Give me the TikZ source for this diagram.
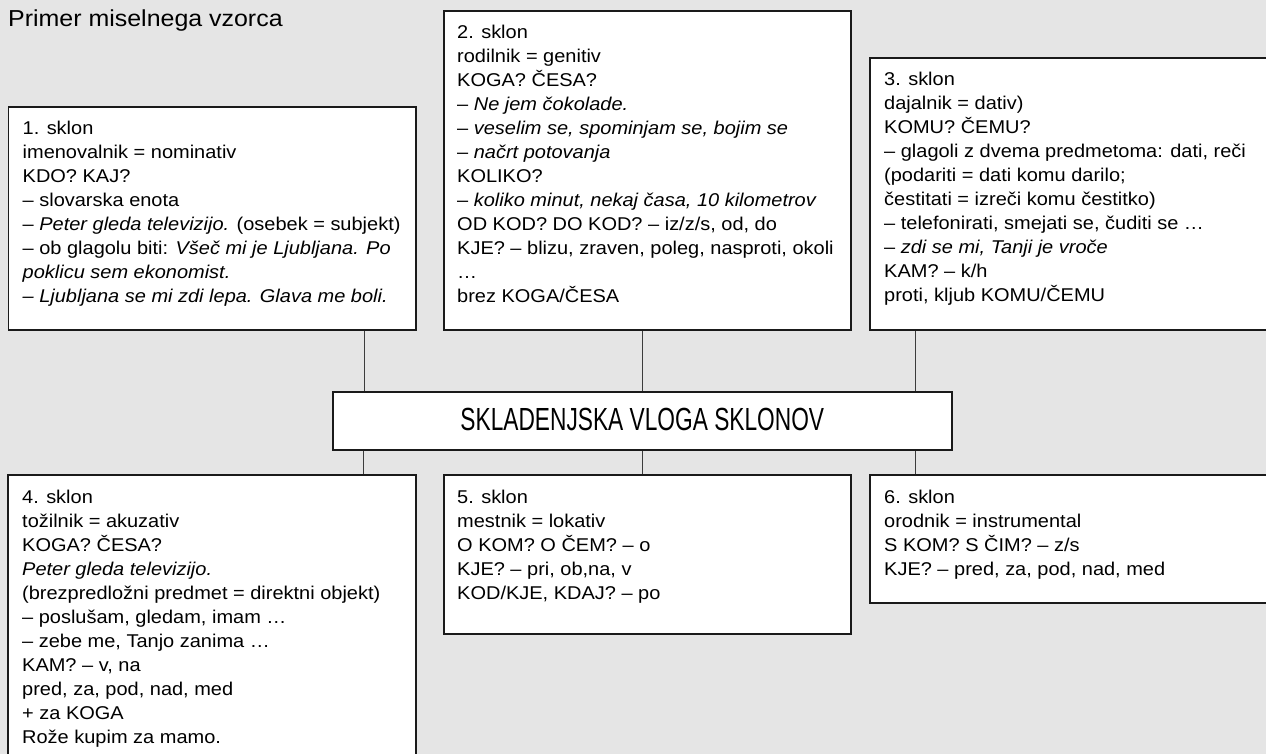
\documentclass[tikz,border=0pt]{standalone}
\usepackage{fontspec}
\setmainfont{Liberation Sans}[FakeStretch=1.08]
\newfontfamily\condfont{Liberation Sans}[FakeStretch=0.71]
\usetikzlibrary{calc}
\definecolor{bg}{HTML}{E5E5E5}
\definecolor{edge}{HTML}{1A1A1A}
\tikzset{
  box/.style={draw=edge, line width=1.6pt, fill=white, rectangle, inner sep=0pt, anchor=north west},
  txt/.style={inner sep=0pt, anchor=base west, font=\fontsize{18.5}{24}\selectfont},
  link/.style={draw=edge!85, line width=1pt},
}
\newcommand{\lines}[1]{\begin{tabular}[t]{@{}l@{}}#1\end{tabular}}
\begin{document}
\begin{tikzpicture}[x=1pt,y=-1pt]
\useasboundingbox (0,0) rectangle (1266,754);
\fill[bg] (0,0) rectangle (1266,754);
\clip (0,0) rectangle (1266,754);

\node[inner sep=0pt, anchor=base west, font=\fontsize{23.1}{28}\selectfont] (title) at (8,27) {Primer miselnega vzorca};

% top boxes
\node[box, minimum width=407.5, minimum height=223] (b1) at (7.5,106) {};
\node[box, minimum width=407, minimum height=319] (b2) at (443,10) {};
\node[box, minimum width=420, minimum height=272] (b3) at (869,57) {};
% central
\node[box, minimum width=619, minimum height=58] (c) at (332,391) {};
\node[inner sep=0pt, font=\condfont\fontsize{32}{36}\selectfont] (ct) at ($(c.center)+(0,-1)$) {SKLADENJSKA VLOGA SKLONOV};
% bottom boxes
\node[box, minimum width=408, minimum height=300] (b4) at (7,474) {};
\node[box, minimum width=407, minimum height=159] (b5) at (443,474) {};
\node[box, minimum width=420, minimum height=128] (b6) at (869,474) {};

% texts
\node[txt] (t1) at ($(b1.north west)+(15,29)$) {\lines{%
1. sklon\\
imenovalnik = nominativ\\
KDO? KAJ?\\
– slovarska enota\\
– \textit{Peter gleda televizijo.} (osebek = subjekt)\\
– ob glagolu biti: \textit{Všeč mi je Ljubljana. Po}\\
\textit{poklicu sem ekonomist.}\\
\textit{– Ljubljana se mi zdi lepa. Glava me boli.}}};

\node[txt] (t2) at ($(b2.north west)+(14,29)$) {\lines{%
2. sklon\\
rodilnik = genitiv\\
KOGA? ČESA?\\
– \textit{Ne jem čokolade.}\\
– \textit{veselim se, spominjam se, bojim se}\\
– \textit{načrt potovanja}\\
KOLIKO?\\
– \textit{koliko minut, nekaj časa, 10 kilometrov}\\
OD KOD? DO KOD? – iz/z/s, od, do\\
KJE? – blizu, zraven, poleg, nasproti, okoli\\
…\\
brez KOGA/ČESA}};

\node[txt] (t3) at ($(b3.north west)+(15,29)$) {\lines{%
3. sklon\\
dajalnik = dativ)\\
KOMU? ČEMU?\\
– glagoli z dvema predmetoma: dati, reči\\
(podariti = dati komu darilo;\\
čestitati = izreči komu čestitko)\\
– telefonirati, smejati se, čuditi se …\\
– \textit{zdi se mi, Tanji je vroče}\\
KAM? – k/h\\
proti, kljub KOMU/ČEMU}};

\node[txt] (t4) at ($(b4.north west)+(15,29)$) {\lines{%
4. sklon\\
tožilnik = akuzativ\\
KOGA? ČESA?\\
\textit{Peter gleda televizijo.}\\
(brezpredložni predmet = direktni objekt)\\
– poslušam, gledam, imam …\\
– zebe me, Tanjo zanima …\\
KAM? – v, na\\
pred, za, pod, nad, med\\
+ za KOGA\\
Rože kupim za mamo.}};

\node[txt] (t5) at ($(b5.north west)+(14,29)$) {\lines{%
5. sklon\\
mestnik = lokativ\\
O KOM? O ČEM? – o\\
KJE? – pri, ob,na, v\\
KOD/KJE, KDAJ? – po}};

\node[txt] (t6) at ($(b6.north west)+(15,29)$) {\lines{%
6. sklon\\
orodnik = instrumental\\
S KOM? S ČIM? – z/s\\
KJE? – pred, za, pod, nad, med}};

% connectors
\draw[link] (c.north west) ++(32,0) coordinate (u1) -- (u1 |- b1.south);
\draw[link] (c.north) -- (c.north |- b2.south);
\draw[link] (c.north east) ++(-37,0) coordinate (u3) -- (u3 |- b3.south);
\draw[link] (c.south west) ++(31,0) coordinate (d1) -- (d1 |- b4.north);
\draw[link] (c.south) -- (c.south |- b5.north);
\draw[link] (c.south east) ++(-37,0) coordinate (d3) -- (d3 |- b6.north);
\end{tikzpicture}
\end{document}
